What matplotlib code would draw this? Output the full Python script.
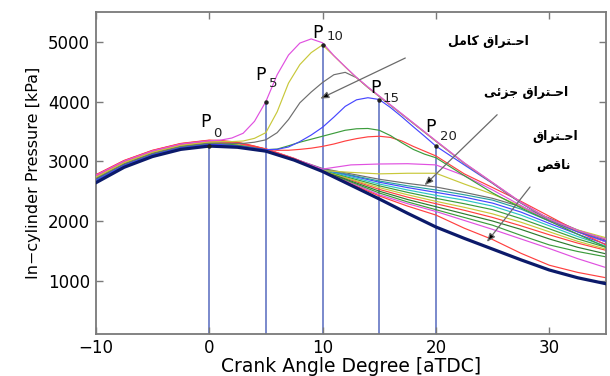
import matplotlib
matplotlib.use('Agg')
import matplotlib.pyplot as plt

# crank angle grids [deg aTDC]
ca = [-10, -7.5, -5, -2.5, 0, 2.5, 5, 7.5, 10, 12.5, 15, 17.5, 20, 22.5, 25, 27.5, 30, 32.5, 35]
ca_fine = [-10, -7.5, -5, -2.5, 0, 1, 2, 3, 4, 5, 6, 7, 8, 9, 10, 11, 12, 13, 14, 15,
           16, 17, 18, 19, 20, 22.5, 25, 27.5, 30, 32.5, 35]

# full / early combustion cycles (fine grid) [kPa]
p_magenta = [2765, 3005, 3175, 3290, 3345, 3355, 3390, 3470, 3670, 4000, 4450, 4780, 4980, 5050, 4985,
             4770, 4585, 4405, 4245, 4095, 3945, 3795, 3645, 3495, 3345, 2975, 2645, 2315, 2035, 1845, 1695]
p_yellow = [2735, 2980, 3155, 3270, 3325, 3330, 3330, 3340, 3385, 3480, 3830, 4310, 4620, 4820, 4950,
            4765, 4580, 4400, 4240, 4090, 3940, 3790, 3640, 3490, 3340, 2970, 2640, 2310, 2030, 1840, 1700]
p_gray = [2715, 2960, 3135, 3252, 3307, 3305, 3300, 3300, 3320, 3360, 3480, 3700, 3980, 4160, 4320,
          4450, 4490, 4400, 4235, 4085, 3935, 3785, 3635, 3485, 3335, 2965, 2635, 2305, 2025, 1835, 1685]
p_blue = [2685, 2935, 3110, 3228, 3283, 3280, 3265, 3245, 3220, 3195, 3200, 3240, 3330, 3440, 3570,
          3740, 3920, 4030, 4065, 4035, 3900, 3745, 3580, 3420, 3255, 2940, 2630, 2300, 2020, 1820, 1660]
p_green = [2700, 2950, 3125, 3243, 3298, 3295, 3280, 3255, 3225, 3195, 3205, 3260, 3320, 3370, 3420,
           3470, 3520, 3545, 3550, 3520, 3430, 3310, 3200, 3120, 3060, 2760, 2470, 2220, 2000, 1780, 1560]
p_red = [2775, 3015, 3185, 3300, 3355, 3350, 3330, 3300, 3255, 3200, 3185, 3185, 3200, 3220, 3250,
         3290, 3340, 3380, 3410, 3420, 3400, 3340, 3250, 3170, 3090, 2790, 2560, 2330, 2080, 1830, 1600]

# partial / misfire cycles (coarse grid) [kPa]
p_mag2 = [2750, 2995, 3165, 3280, 3335, 3302, 3202, 3045, 2870, 2940, 2955, 2960, 2940, 2760, 2520, 2260, 2000, 1820, 1650]
p_yel2 = [2725, 2970, 3145, 3260, 3315, 3287, 3196, 3040, 2845, 2815, 2790, 2800, 2800, 2620, 2450, 2250, 2010, 1850, 1720]
p_c1 = [2730, 2975, 3150, 3266, 3321, 3291, 3198, 3042, 2880, 2790, 2700, 2630, 2570, 2480, 2380, 2240, 2050, 1850, 1680]
p_c2 = [2660, 2915, 3095, 3215, 3270, 3247, 3176, 3027, 2870, 2770, 2670, 2590, 2520, 2440, 2350, 2200, 2000, 1820, 1650]
p_c3 = [2665, 2920, 3100, 3220, 3275, 3251, 3178, 3028, 2865, 2760, 2650, 2560, 2480, 2400, 2300, 2150, 1960, 1780, 1610]
p_c4 = [2655, 2910, 3090, 3210, 3265, 3243, 3175, 3025, 2860, 2740, 2620, 2520, 2430, 2350, 2250, 2100, 1920, 1740, 1580]
p_c5 = [2690, 2945, 3120, 3238, 3293, 3267, 3185, 3032, 2855, 2720, 2590, 2480, 2380, 2290, 2190, 2040, 1870, 1700, 1560]
p_c6 = [2720, 2965, 3140, 3257, 3312, 3283, 3195, 3040, 2850, 2700, 2560, 2440, 2330, 2230, 2120, 1980, 1820, 1660, 1530]
p_c7 = [2770, 3010, 3180, 3295, 3350, 3315, 3210, 3050, 2850, 2690, 2530, 2400, 2290, 2180, 2060, 1920, 1770, 1630, 1510]
p_c8 = [2680, 2935, 3110, 3230, 3285, 3260, 3180, 3030, 2850, 2670, 2500, 2360, 2240, 2120, 2000, 1860, 1700, 1560, 1450]
p_c9 = [2705, 2955, 3130, 3248, 3303, 3275, 3190, 3035, 2845, 2655, 2470, 2320, 2190, 2060, 1930, 1760, 1600, 1490, 1400]
p_mag_lo = [2745, 2990, 3160, 3275, 3330, 3300, 3200, 3045, 2845, 2640, 2440, 2290, 2160, 2010, 1860, 1700, 1540, 1370, 1220]
p_red_lo = [2760, 3000, 3170, 3285, 3340, 3305, 3205, 3045, 2840, 2620, 2420, 2250, 2100, 1880, 1690, 1460, 1260, 1140, 1050]
p_motor = [2640, 2900, 3080, 3200, 3255, 3235, 3170, 3020, 2830, 2600, 2370, 2130, 1900, 1710, 1530, 1350, 1180, 1050, 950]

# sample points P0..P20
p_ca = [0, 5, 10, 15, 20]
p_val = [3255, 4000, 4950, 4035, 3255]
p_sub = ['0', '5', '10', '15', '20']

# persian labels, written in visual order with presentation forms
w_ehteragh = '\ufed5\ufe8d\ufeae\ufe98\u0640\ufea3\ufe8d'
w_kamel = '\ufede\ufee3\ufe8e\ufb90'
w_jozei = '\ufef0\ufe8b\ufeb0\ufe9f'
w_nagheS = '\ufeba\ufed7\ufe8e\ufee7'

plt.rcParams['font.family'] = 'DejaVu Sans'

fig = plt.figure(figsize=(6.1, 3.76), dpi=100)
ax = fig.add_axes([0.157, 0.112, 0.8364, 0.856])

frame = '#7a7a7a'
c_b, c_g, c_r = '#4646ff', '#3c9c3c', '#ff4040'
c_c, c_m, c_y = '#2cc4c4', '#e050e0', '#c8c83a'
c_k, c_t, c_dg = '#6e6e6e', '#28a0a0', '#2e7a2e'

ax.vlines(p_ca, 0, p_val, color='#7080c8', lw=1.3, zorder=1)

lw = 0.85
coarse = [(p_c7, c_r), (p_mag_lo, c_m), (p_c9, c_g), (p_c8, c_dg), (p_c6, c_y), (p_c5, c_g),
          (p_c4, c_c), (p_c3, c_b), (p_c2, c_t), (p_c1, c_k), (p_yel2, c_y), (p_mag2, c_m),
          (p_red_lo, c_r)]
for p, c in coarse:
    ax.plot(ca, p, color=c, lw=lw, zorder=2)

fine = [(p_red, c_r), (p_green, c_g), (p_blue, c_b), (p_gray, c_k), (p_yellow, c_y), (p_magenta, c_m)]
for p, c in fine:
    ax.plot(ca_fine, p, color=c, lw=lw, zorder=3)

ax.plot(ca, p_motor, color='#0c1a6a', lw=2.3, zorder=4)
ax.plot(p_ca, p_val, 'o', color='#202020', ms=2.2, zorder=5)

p_off = [(-4, 24, 8, 13), (-5, 27, 7, 18), (-5, 12, 12, 8), (-4, 12, 12, 1), (-5, 19, 13, 10)]
for x, y, s, (dx, dy, sx, sy) in zip(p_ca, p_val, p_sub, p_off):
    ax.annotate('P', (x, y), xytext=(dx, dy), textcoords='offset pixels',
                ha='center', va='center', fontsize=12.5, zorder=6)
    ax.annotate(s, (x, y), xytext=(sx, sy), textcoords='offset pixels',
                ha='center', va='center', fontsize=9.5, color='#222222', zorder=6)

arrow = dict(arrowstyle='-|>,head_length=0.5,head_width=0.2', ec='#6a6a6a', fc='black', lw=0.9,
             shrinkA=0, shrinkB=0)
ax.annotate('', xy=(9.8, 4050), xytext=(17.3, 4730), arrowprops=arrow, zorder=6)
ax.annotate('', xy=(19.0, 2600), xytext=(25.4, 3780), arrowprops=arrow, zorder=6)
ax.annotate('', xy=(24.5, 1650), xytext=(28.3, 2570), arrowprops=arrow, zorder=6)

fa = dict(fontsize=9, fontweight='bold', ha='center', va='center', family='DejaVu Sans')
ax.text(24.6, 5010, w_kamel + ' ' + w_ehteragh, **fa)
ax.text(28.0, 4160, w_jozei + ' ' + w_ehteragh, **fa)
ax.text(30.5, 3420, w_ehteragh, **fa)
ax.text(30.4, 2925, w_nagheS, **fa)

ax.set_xlim(-10, 35)
ax.set_ylim(110, 5500)
ax.set_xticks([-10, 0, 10, 20, 30])
ax.set_yticks([1000, 2000, 3000, 4000, 5000])
ax.set_xticklabels(['\u221210', '0', '10', '20', '30'])
ax.tick_params(direction='in', length=5, width=1, color=frame, top=True, right=True,
               labelsize=12, pad=4)
for sp in ax.spines.values():
    sp.set_color(frame)
    sp.set_linewidth(1.3)
ax.set_xlabel('Crank Angle Degree [aTDC]', fontsize=13.5, labelpad=0)
ax.set_ylabel('In\u2212cylinder Pressure [kPa]', fontsize=11.5, labelpad=5)

fig.savefig('out.png', dpi=100)
